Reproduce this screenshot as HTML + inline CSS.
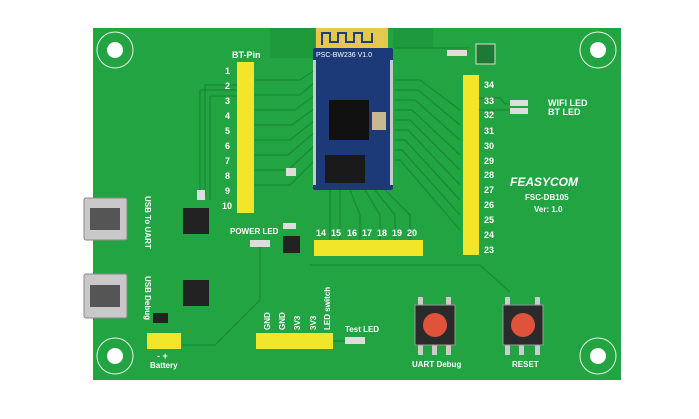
<!DOCTYPE html>
<html><head><meta charset="utf-8"><style>
body{margin:0;width:699px;height:414px;background:#fff;overflow:hidden;font-family:"Liberation Sans",sans-serif}
</style></head><body>
<svg width="699" height="414" xmlns="http://www.w3.org/2000/svg" font-family="Liberation Sans, sans-serif" font-weight="bold">
<rect x="93" y="28" width="528" height="352" fill="#22a443"/>
<rect x="270" y="28" width="45" height="30" fill="#1e9a3c"/>
<rect x="393" y="28" width="40" height="20" fill="#1e9a3c"/>
<!-- traces -->
<g stroke="#1a8a36" stroke-width="1.3" fill="none">
<path d="M255 80 H300 L315 70"/><path d="M255 95 H300 L315 82"/><path d="M255 110 H295 L315 95"/><path d="M255 125 H292 L315 108"/>
<path d="M255 140 H290 L315 120"/><path d="M255 155 H288 L315 132"/><path d="M255 170 H288 L315 145"/><path d="M255 185 H290 L315 160"/>
<path d="M240 85 H205 V195"/><path d="M240 90 H200 V200"/><path d="M240 96 H210 V200"/>
<path d="M395 80 H420 L460 110"/><path d="M395 90 H418 L460 125"/><path d="M395 100 H415 L460 140"/><path d="M395 110 H412 L460 155"/>
<path d="M395 120 H410 L460 170"/><path d="M395 130 H408 L460 185"/><path d="M395 140 H405 L460 200"/><path d="M395 150 H402 L460 215"/><path d="M395 160 H400 L460 230"/>
<path d="M330 190 V240"/><path d="M340 190 V240"/><path d="M350 190 L360 215 V240"/><path d="M365 190 L380 215 V240"/><path d="M375 190 L395 215 V240"/><path d="M385 190 L410 215 V240"/>
<path d="M478 98 H500 L505 104 H515"/><path d="M478 110 H515"/>
<path d="M310 265 H480 L510 292"/><path d="M395 48 H470"/>
<path d="M182 345 H215 L260 300 V245"/><path d="M333 341 H345"/>
</g>
<!-- holes -->
<g fill="#fff"><circle cx="115" cy="50" r="8"/><circle cx="598" cy="50" r="8"/><circle cx="115" cy="356" r="8"/><circle cx="598" cy="356" r="8"/></g>
<g fill="none" stroke="#e8f5e8" stroke-width="1"><circle cx="115" cy="50" r="18"/><circle cx="598" cy="50" r="18"/><circle cx="115" cy="356" r="18"/><circle cx="598" cy="356" r="18"/></g>
<!-- module -->
<rect x="316" y="28" width="72" height="22" fill="#e8c84a"/>
<path d="M322 45 V33 H330 V42 H338 V33 H346 V42 H354 V33 H362 V42 H372 V33" stroke="#1b3f7a" stroke-width="2" fill="none"/>
<rect x="313" y="48" width="80" height="142" rx="2" fill="#1d3a78"/>
<text x="316" y="57" font-size="7" fill="#fff" font-weight="normal">PSC-BW236  V1.0</text>
<rect x="329" y="100" width="40" height="40" fill="#111"/>
<rect x="372" y="112" width="14" height="18" fill="#c8b890"/>
<rect x="325" y="155" width="40" height="28" fill="#1a1a1a"/>
<g fill="#c9c9c9"><rect x="313" y="60" width="3" height="125"/><rect x="390" y="60" width="3" height="125"/></g>
<!-- headers -->
<g fill="#f2e62a">
<rect x="237" y="62" width="17" height="151"/><rect x="463" y="75" width="16" height="180"/>
<rect x="314" y="240" width="109" height="16"/><rect x="256" y="333" width="77" height="16"/><rect x="147" y="333" width="34" height="16"/>
</g>
<!-- text -->
<g fill="#fff" font-size="9">
<text x="232" y="58">BT-Pin</text>
<text x="230" y="74" text-anchor="end">1</text><text x="230" y="89" text-anchor="end">2</text><text x="230" y="104" text-anchor="end">3</text>
<text x="230" y="119" text-anchor="end">4</text><text x="230" y="134" text-anchor="end">5</text><text x="230" y="149" text-anchor="end">6</text>
<text x="230" y="164" text-anchor="end">7</text><text x="230" y="179" text-anchor="end">8</text><text x="230" y="194" text-anchor="end">9</text><text x="232" y="209" text-anchor="end">10</text>
<text x="484" y="88">34</text><text x="484" y="104">33</text><text x="484" y="118">32</text><text x="484" y="134">31</text><text x="484" y="149">30</text>
<text x="484" y="164">29</text><text x="484" y="178">28</text><text x="484" y="193">27</text><text x="484" y="208">26</text><text x="484" y="223">25</text><text x="484" y="238">24</text><text x="484" y="253">23</text>
<text x="316" y="236">14</text><text x="331" y="236">15</text><text x="347" y="236">16</text><text x="362" y="236">17</text><text x="377" y="236">18</text><text x="392" y="236">19</text><text x="407" y="236">20</text>
<text x="548" y="106">WIFI LED</text><text x="548" y="115">BT LED</text>
<text x="510" y="186" font-size="12" font-style="italic">FEASYCOM</text>
<text x="525" y="200" font-size="8">FSC-DB105</text><text x="534" y="212" font-size="8">Ver: 1.0</text>
<text x="230" y="234" font-size="8">POWER LED</text>
<text x="345" y="332" font-size="8">Test LED</text>
<text x="412" y="367" font-size="8">UART Debug</text><text x="512" y="367" font-size="8">RESET</text>
<text x="150" y="368" font-size="8">Battery</text><text x="157" y="359" font-size="9">-  +</text>
<g font-size="8">
<text transform="translate(145,196) rotate(90)">USB To UART</text>
<text transform="translate(145,276) rotate(90)">USB Debug</text>
<text transform="translate(270,330) rotate(-90)">GND</text><text transform="translate(285,330) rotate(-90)">GND</text>
<text transform="translate(300,330) rotate(-90)">3V3</text><text transform="translate(316,330) rotate(-90)">3V3</text>
<text transform="translate(330,330) rotate(-90)">LED switch</text>
</g></g>
<!-- usb -->
<g fill="#c9c9c9" stroke="#888"><rect x="84" y="198" width="43" height="42" rx="2"/><rect x="84" y="274" width="43" height="44" rx="2"/></g>
<rect x="90" y="208" width="30" height="22" fill="#555"/><rect x="90" y="285" width="30" height="22" fill="#555"/>
<!-- chips -->
<rect x="183" y="208" width="26" height="26" fill="#222"/><rect x="183" y="280" width="26" height="26" fill="#222"/>
<rect x="283" y="236" width="17" height="17" fill="#222"/><rect x="153" y="313" width="15" height="10" fill="#222"/>
<rect x="476" y="44" width="19" height="20" fill="#1c7a34" stroke="#ddd"/>
<!-- small parts -->
<g fill="#ddd"><rect x="286" y="168" width="10" height="8"/><rect x="197" y="190" width="8" height="10"/><rect x="250" y="240" width="20" height="7"/>
<rect x="510" y="100" width="18" height="6"/><rect x="510" y="108" width="18" height="6"/><rect x="345" y="337" width="20" height="7"/><rect x="283" y="223" width="13" height="6"/>
<rect x="447" y="50" width="20" height="6"/></g>
<!-- buttons -->
<g fill="#ccc"><rect x="418" y="297" width="5" height="8"/><rect x="446" y="297" width="5" height="8"/><rect x="505" y="297" width="5" height="8"/><rect x="535" y="297" width="5" height="8"/>
<rect x="418" y="345" width="5" height="10"/><rect x="432" y="345" width="5" height="10"/><rect x="446" y="345" width="5" height="10"/>
<rect x="505" y="345" width="5" height="10"/><rect x="519" y="345" width="5" height="10"/><rect x="535" y="345" width="5" height="10"/></g>
<rect x="415" y="305" width="40" height="40" fill="#2a2a2a" stroke="#999"/><rect x="503" y="305" width="40" height="40" fill="#2a2a2a" stroke="#999"/>
<circle cx="435" cy="325" r="12" fill="#e0533a"/><circle cx="523" cy="325" r="12" fill="#e0533a"/>
</svg>
</body></html>
